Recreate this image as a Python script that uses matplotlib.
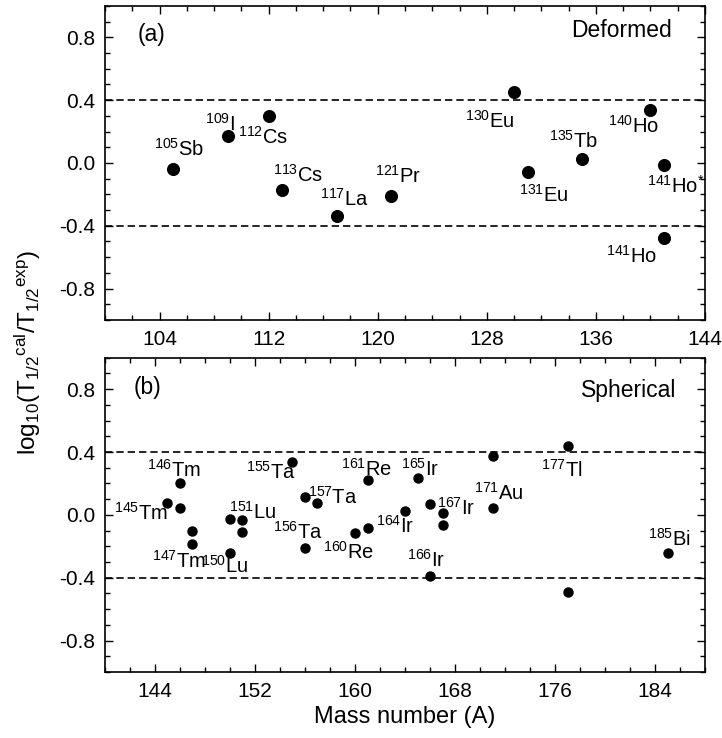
import matplotlib
matplotlib.use('Agg')
import matplotlib.pyplot as plt
from matplotlib.ticker import MultipleLocator, FixedLocator

plt.rcParams['font.family'] = ['Liberation Sans', 'DejaVu Sans']
plt.rcParams['mathtext.fontset'] = 'custom'
plt.rcParams['mathtext.rm'] = 'Liberation Sans'
plt.rcParams['mathtext.it'] = 'Liberation Sans:italic'
plt.rcParams['mathtext.default'] = 'regular'
plt.rcParams['axes.unicode_minus'] = False

# panel (a): deformed emitters
def_mass = [105, 109, 112, 113, 117, 121, 130, 131, 135, 140, 141, 141]
def_ratio = [-0.04, 0.17, 0.30, -0.17, -0.335, -0.21, 0.45, -0.055, 0.025, 0.335, -0.015, -0.48]
def_labels = ['105', '109', '112', '113', '117', '121', '130', '131', '135', '140', '141', '141']
def_elems = ['Sb', 'I', 'Cs', 'Cs', 'La', 'Pr', 'Eu', 'Eu', 'Tb', 'Ho', 'Ho$^{*}$', 'Ho']

# panel (b): spherical emitters
sph_mass = [145, 146, 146, 147, 147, 150, 150, 151, 151, 155, 156, 156, 157,
            160, 161, 161, 164, 165, 166, 166, 167, 167, 171, 171, 177, 177, 185]
sph_ratio = [0.075, 0.20, 0.045, -0.10, -0.185, -0.025, -0.245, -0.035, -0.11, 0.335,
             0.115, -0.21, 0.075, -0.115, -0.085, 0.225, 0.025, 0.237, 0.072, -0.39,
             0.013, -0.065, 0.375, 0.045, 0.438, -0.493, -0.245]
# label: (index of point, mass text, element)
sph_label_idx = [0, 1, 4, 6, 7, 9, 11, 12, 13, 15, 16, 17, 19, 20, 23, 24, 26]
sph_label_mass = ['145', '146', '147', '150', '151', '155', '156', '157', '160', '161',
                  '164', '165', '166', '167', '171', '177', '185']
sph_label_elem = ['Tm', 'Tm', 'Tm', 'Lu', 'Lu', 'Ta', 'Ta', 'Ta', 'Re', 'Re',
                  'Ir', 'Ir', 'Ir', 'Ir', 'Au', 'Tl', 'Bi']

# label offsets in pixels (left edge, baseline) from the point
def_offsets = [(-19, 13), (-23, 5), (-31, -28), (-9, 8), (-17, 10), (-16, 13),
               (-49, -35), (-9, -30), (-33, 11), (-42, -22), (-17, -27), (-58, -24)]
sph_offsets = [(-53, -17), (-33, 7), (-40, -24), (-29, -19), (-13, 2), (-46, -17),
               (-32, 9), (-9, -1), (-32, -26), (-27, 4), (-29, -22), (-17, 2),
               (-23, 9), (-6, -2), (-19, 8), (-27, -31), (-20, 8)]

fig = plt.figure(figsize=(7.22, 7.38), dpi=100)
ax1 = fig.add_axes([0.1454, 0.5664, 0.8311, 0.4255])
ax2 = fig.add_axes([0.1454, 0.0894, 0.8311, 0.4259])

px2pt = 0.72


def style_axis(ax, xmin, xmax, xticks):
    ax.set_xlim(xmin, xmax)
    ax.set_ylim(-1.0, 1.0)
    ax.xaxis.set_major_locator(FixedLocator(xticks))
    ax.xaxis.set_minor_locator(MultipleLocator(2))
    ax.yaxis.set_major_locator(FixedLocator([-0.8, -0.4, 0.0, 0.4, 0.8]))
    ax.yaxis.set_minor_locator(MultipleLocator(0.1))
    ax.set_yticklabels(['-0.8', '-0.4', '0.0', '0.4', '0.8'])
    ax.tick_params(which='both', direction='in', top=True, right=True, width=1.0,
                   labelsize=15)
    ax.tick_params(which='major', length=6, pad=7)
    ax.tick_params(which='minor', length=3.5)
    for s in ax.spines.values():
        s.set_linewidth(1.2)
    for yv in (0.4, -0.4):
        ax.axhline(yv, color='black', lw=1.2, dashes=(4.4, 2.4), zorder=1)


style_axis(ax1, 100, 144, list(range(104, 145, 8)))
style_axis(ax2, 140, 188, list(range(144, 185, 8)))

ax1.plot(def_mass, def_ratio, 'o', color='black', markersize=8.4, zorder=3)
ax2.plot(sph_mass, sph_ratio, 'o', color='black', markersize=6.5, zorder=3)

for i in range(len(def_mass)):
    dx, dy = def_offsets[i]
    ax1.annotate('$^{' + def_labels[i] + '}$' + def_elems[i],
                 (def_mass[i], def_ratio[i]), xytext=(dx * px2pt, dy * px2pt),
                 textcoords='offset points', ha='left', va='baseline', fontsize=14.5)

for k, i in enumerate(sph_label_idx):
    dx, dy = sph_offsets[k]
    ax2.annotate('$^{' + sph_label_mass[k] + '}$' + sph_label_elem[k],
                 (sph_mass[i], sph_ratio[i]), xytext=(dx * px2pt, dy * px2pt),
                 textcoords='offset points', ha='left', va='baseline', fontsize=14.5)

ax1.text(0.055, 0.889, '(a)', transform=ax1.transAxes, fontsize=16.5, va='baseline')
ax1.text(0.945, 0.900, 'Deformed', transform=ax1.transAxes, fontsize=16.5,
         ha='right', va='baseline')
ax2.text(0.047, 0.885, '(b)', transform=ax2.transAxes, fontsize=16.5, va='baseline')
ax2.text(0.953, 0.874, 'Spherical', transform=ax2.transAxes, fontsize=16.5,
         ha='right', va='baseline')

ax2.set_xlabel('Mass number (A)', fontsize=17, labelpad=4)
fig.text(0.038, 0.522, r'log$_{10}$(T$_{1/2}$$^{cal}$/T$_{1/2}$$^{exp}$)', rotation=90,
         fontsize=17.5, ha='center', va='center')

fig.savefig('out.png', dpi=100)
